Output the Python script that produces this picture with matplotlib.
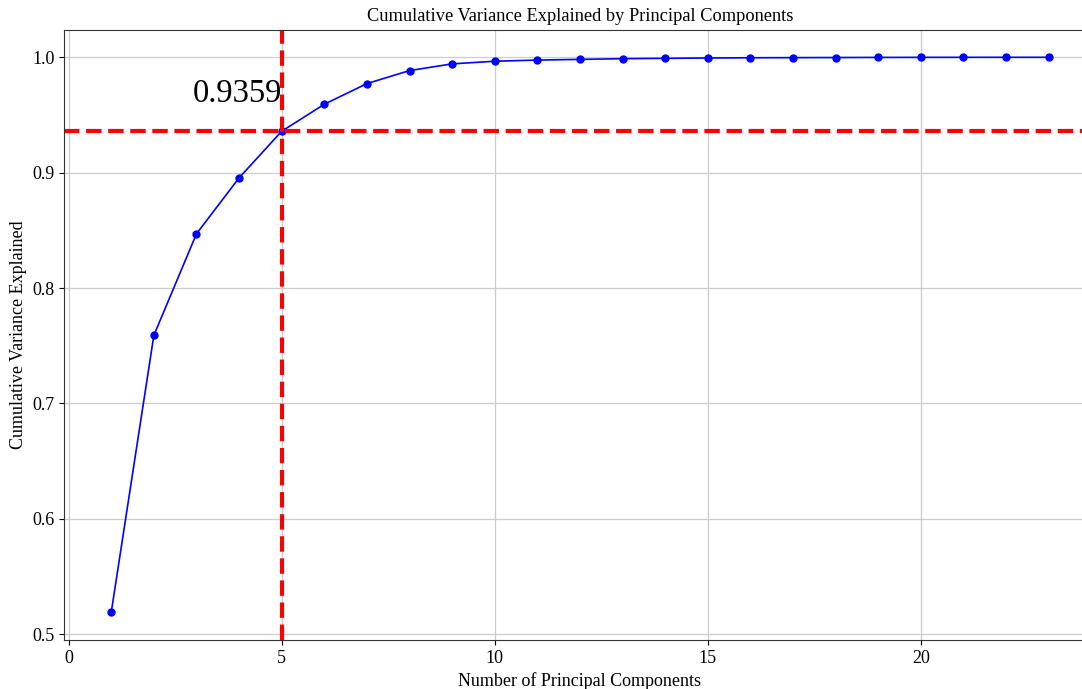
import matplotlib
matplotlib.use("Agg")
import matplotlib.pyplot as plt

plt.rcParams['font.family'] = ['Liberation Serif', 'DejaVu Serif']

components = list(range(1, 24))
cum_var = [0.519, 0.759, 0.847, 0.8955, 0.9359, 0.9593, 0.9772, 0.9885, 0.9943,
           0.9966, 0.9976, 0.9982, 0.9988, 0.9991, 0.9994, 0.9996, 0.9997,
           0.9998, 0.9999, 0.99995, 0.99998, 0.99999, 1.0]
n_sel = 5
thresh = 0.9359
label_text = "0.9359"

fig = plt.figure(figsize=(10.82, 6.89), dpi=100)
ax = fig.add_axes([0.0595, 0.0711, 0.953, 0.886])
ax.plot(components, cum_var, marker='o', color='b', lw=1.2, markersize=5)
ax.axvline(x=n_sel, color='r', linestyle='--', lw=3)
ax.axhline(y=thresh, color='r', linestyle='--', lw=3)
ax.text(n_sel, 0.961, label_text, ha='right', va='baseline', fontsize=23.5)
ax.grid(True, color='#cccccc', lw=0.9)
ax.set_axisbelow(True)
ax.set_title('Cumulative Variance Explained by Principal Components', fontsize=13.2)
ax.set_xlabel('Number of Principal Components', fontsize=13)
ax.set_ylabel('Cumulative Variance Explained', fontsize=13)
ax.tick_params(labelsize=13)
for s in ax.spines.values():
    s.set_color('#333333')
fig.savefig('out.png', dpi=100)
